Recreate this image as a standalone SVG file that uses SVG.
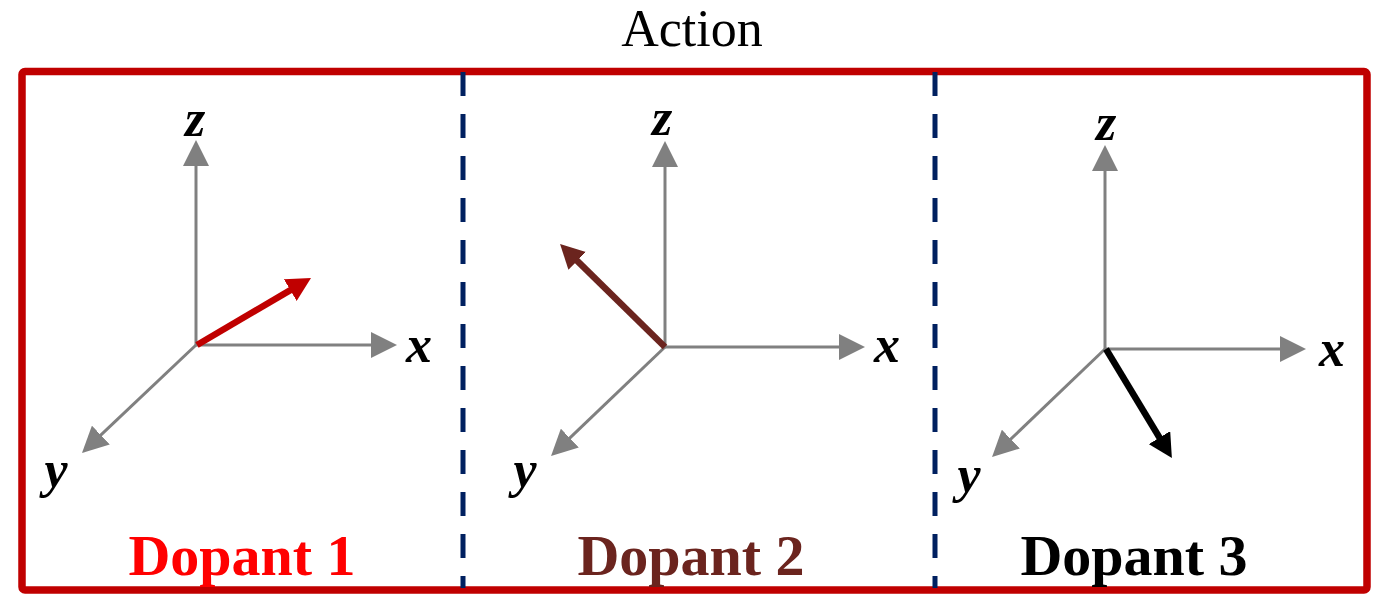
<svg xmlns="http://www.w3.org/2000/svg" width="1384" height="599" viewBox="0 0 1384 599">
<style>
.frame{fill:none;stroke:#C00000;stroke-width:7.5}
.div{stroke:#002060;stroke-width:5;stroke-dasharray:24 18}
.axis{stroke:#808080;stroke-width:3;fill:none}
.vec{stroke-width:6.5;fill:none}
.ax{font-family:"Liberation Serif","Times New Roman",serif;font-weight:bold;font-style:italic;font-size:52px;fill:#000;text-anchor:middle}
.lbl{font-family:"Liberation Serif","Times New Roman",serif;font-weight:bold;font-size:58px;text-anchor:middle}
.title{font-family:"Liberation Serif","Times New Roman",serif;font-size:52px;fill:#000;text-anchor:middle}
</style>
<defs>
<marker id="ga" markerUnits="userSpaceOnUse" markerWidth="26" markerHeight="26" refX="6" refY="13" orient="auto" viewBox="0 0 26 26"><path d="M0,0 L26,13 L0,26 z" fill="#808080"/></marker>
<marker id="ra" markerUnits="userSpaceOnUse" markerWidth="24" markerHeight="25" refX="6" refY="12.5" orient="auto" viewBox="0 0 24 25"><path d="M0,0 L24,12.5 L0,25 z" fill="#C00000"/></marker>
<marker id="ba" markerUnits="userSpaceOnUse" markerWidth="24" markerHeight="25" refX="6" refY="12.5" orient="auto" viewBox="0 0 24 25"><path d="M0,0 L24,12.5 L0,25 z" fill="#6B241E"/></marker>
<marker id="ka" markerUnits="userSpaceOnUse" markerWidth="24" markerHeight="25" refX="6" refY="12.5" orient="auto" viewBox="0 0 24 25"><path d="M0,0 L24,12.5 L0,25 z" fill="#000"/></marker>
</defs>
<text class="title" x="692" y="46">Action</text>
<g id="frame"><rect class="frame" x="22" y="71.5" width="1345" height="518.5" rx="3"/></g>
<g id="dividers">
<line class="div" x1="463" y1="72" x2="463" y2="588"/>
<line class="div" x1="935" y1="72" x2="935" y2="588"/>
</g>
<g id="panel1">
<line class="axis" x1="196" y1="345" x2="196" y2="160" marker-end="url(#ga)"/>
<line class="axis" x1="196" y1="345" x2="377" y2="345" marker-end="url(#ga)"/>
<line class="axis" x1="196" y1="345" x2="96.5" y2="439.2" marker-end="url(#ga)"/>
<line class="vec" stroke="#C00000" x1="197" y1="345" x2="295.5" y2="287.1" marker-end="url(#ra)"/>
<text class="ax" x="195" y="136">z</text>
<text class="ax" x="419" y="362">x</text>
<text class="ax" x="56" y="487">y</text>
<text class="lbl" x="242" y="575" fill="#FF0000">Dopant 1</text>
</g>
<g id="panel2">
<line class="axis" x1="665" y1="347" x2="665" y2="161" marker-end="url(#ga)"/>
<line class="axis" x1="665" y1="347" x2="845" y2="347" marker-end="url(#ga)"/>
<line class="axis" x1="665" y1="347" x2="565.5" y2="442.2" marker-end="url(#ga)"/>
<line class="vec" stroke="#6B241E" x1="665" y1="347" x2="572.9" y2="256.6" marker-end="url(#ba)"/>
<text class="ax" x="662" y="135">z</text>
<text class="ax" x="887" y="362">x</text>
<text class="ax" x="525" y="487">y</text>
<text class="lbl" x="691" y="575" fill="#6B241E">Dopant 2</text>
</g>
<g id="panel3">
<line class="axis" x1="1105" y1="349" x2="1105" y2="165" marker-end="url(#ga)"/>
<line class="axis" x1="1105" y1="349" x2="1286" y2="349" marker-end="url(#ga)"/>
<line class="axis" x1="1105" y1="349" x2="1006.5" y2="443.2" marker-end="url(#ga)"/>
<line class="vec" stroke="#000" x1="1106" y1="349" x2="1162.6" y2="442.7" marker-end="url(#ka)"/>
<text class="ax" x="1106" y="140">z</text>
<text class="ax" x="1332" y="366">x</text>
<text class="ax" x="969" y="492">y</text>
<text class="lbl" x="1134" y="575" fill="#000">Dopant 3</text>
</g>
</svg>
